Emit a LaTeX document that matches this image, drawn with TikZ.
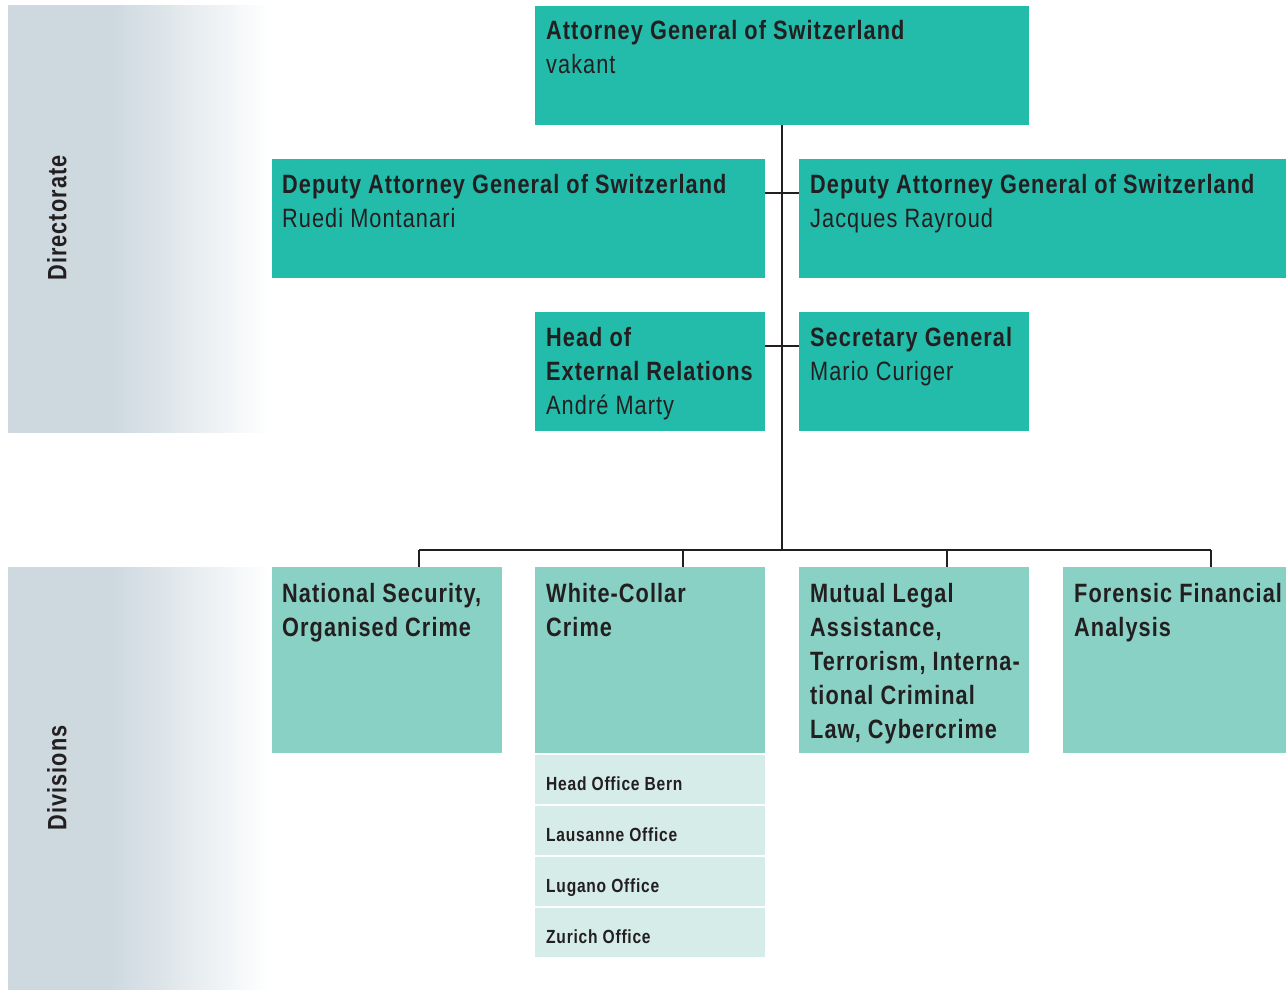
\documentclass[tikz,border=0pt]{standalone}
\usepackage{fontspec}
\setmainfont{Liberation Sans}[FakeStretch=0.82, LetterSpace=4]
\usetikzlibrary{calc}
\definecolor{teal1}{RGB}{35,187,170}
\definecolor{teal2}{RGB}{137,209,196}
\definecolor{teal3}{RGB}{214,236,232}
\definecolor{band}{RGB}{205,216,223}
\definecolor{ink}{RGB}{35,31,32}
\pgfdeclarehorizontalshading{bandshade}{100bp}{color(0bp)=(band); color(25bp)=(band); color(44.5bp)=(band); color(75bp)=(white); color(100bp)=(white)}
\tikzset{
  box/.style={rectangle, inner sep=0pt, outer sep=0pt, anchor=north west, draw=none, fill=teal1},
  divbox/.style={box, fill=teal2, minimum height=186pt},
  offbox/.style={box, fill=teal3, minimum width=230pt, minimum height=49pt},
  txt/.style={inner sep=0pt, anchor=base west, text=ink},
  conn/.style={draw=ink, line width=1.2pt},
  side/.style={rotate=90, inner sep=0pt, text=ink, font=\fontsize{26.5}{30}\selectfont\bfseries},
  bandfill/.style={shading=bandshade},
}
\newcommand\bigtxt[2]{\parbox[t]{#1}{\fontsize{26.5}{34}\selectfont\raggedright #2}}
\newcommand\smalltxt[1]{\fontsize{19}{21}\selectfont\bfseries #1}
\begin{document}
\begin{tikzpicture}[x=1pt,y=-1pt]
\useasboundingbox (0,0) rectangle (1286,990);
% side bands
\shade[bandfill] (8,6) rectangle (270,432);
\shade[bandfill] (8,567) rectangle (270,990);
\node[side] (dirL) at (57,218) {Directorate};
\node[side] (divL) at (57,778) {Divisions};
% directorate boxes
\node[box, minimum width=494pt, minimum height=119pt] (ag) at (535,6) {};
\node[box, minimum width=493pt, minimum height=119pt] (dl) at (272,159) {};
\node[box, minimum width=487pt, minimum height=119pt] (dr) at (799,159) {};
\node[box, minimum width=230pt, minimum height=119pt] (he) at (535,312) {};
\node[box, minimum width=230pt, minimum height=119pt] (sg) at (799,312) {};
\node[txt] (agT) at ($(ag.north west)+(11,34)$) {\bigtxt{480pt}{\textbf{Attorney General of Switzerland}\\vakant}};
\node[txt] (dlT) at ($(dl.north west)+(10,34)$) {\bigtxt{480pt}{\textbf{Deputy Attorney General of Switzerland}\\Ruedi Montanari}};
\node[txt] (drT) at ($(dr.north west)+(11,34)$) {\bigtxt{480pt}{\textbf{Deputy Attorney General of Switzerland}\\Jacques Rayroud}};
\node[txt] (heT) at ($(he.north west)+(11,34)$) {\bigtxt{225pt}{\textbf{Head of}\\\textbf{External Relations}\\André Marty}};
\node[txt] (sgT) at ($(sg.north west)+(11,34)$) {\bigtxt{225pt}{\textbf{Secretary General}\\Mario Curiger}};
% divisions
\node[divbox, minimum width=230pt] (ns) at (272,567) {};
\node[divbox, minimum width=230pt] (wc) at (535,567) {};
\node[divbox, minimum width=230pt] (ml) at (799,567) {};
\node[divbox, minimum width=223pt] (ff) at (1063,567) {};
\node[txt] (nsT) at ($(ns.north west)+(10,35)$) {\bigtxt{225pt}{\textbf{National Security,}\\\textbf{Organised Crime}}};
\node[txt] (wcT) at ($(wc.north west)+(11,35)$) {\bigtxt{225pt}{\textbf{White-Collar}\\\textbf{Crime}}};
\node[txt] (mlT) at ($(ml.north west)+(11,35)$) {\bigtxt{225pt}{\textbf{Mutual Legal}\\\textbf{Assistance,}\\\textbf{Terrorism, Interna-}\\\textbf{tional Criminal}\\\textbf{Law, Cybercrime}}};
\node[txt] (ffT) at ($(ff.north west)+(11,35)$) {\bigtxt{225pt}{\textbf{Forensic Financial}\\\textbf{Analysis}}};
% offices
\node[offbox] (o1) at (535,755) {};
\node[offbox] (o2) at (535,806) {};
\node[offbox] (o3) at (535,857) {};
\node[offbox] (o4) at (535,908) {};
\node[txt] (o1T) at ($(o1.north west)+(11,35)$) {\smalltxt{Head Office Bern}};
\node[txt] (o2T) at ($(o2.north west)+(11,35)$) {\smalltxt{Lausanne Office}};
\node[txt] (o3T) at ($(o3.north west)+(11,35)$) {\smalltxt{Lugano Office}};
\node[txt] (o4T) at ($(o4.north west)+(11,35)$) {\smalltxt{Zurich Office}};
% connectors
\coordinate (busC) at (782,550);
\coordinate (busL) at (419,550);
\coordinate (busR) at (1211,550);
\draw[conn] (ag.south) -- (busC);
\draw[conn] ($(dl.north east)+(0,34)$) -- ($(dr.north west)+(0,34)$);
\draw[conn] ($(he.north east)+(0,34)$) -- ($(sg.north west)+(0,34)$);
\draw[conn] (busL) -- (busR);
\draw[conn] (busL) -- ($(ns.north west)+(147,0)$);
\draw[conn] ($(wc.north west)+(148,-17)$) -- ($(wc.north west)+(148,0)$);
\draw[conn] ($(ml.north west)+(148,-17)$) -- ($(ml.north west)+(148,0)$);
\draw[conn] (busR) -- ($(ff.north west)+(148,0)$);
\end{tikzpicture}
\end{document}
